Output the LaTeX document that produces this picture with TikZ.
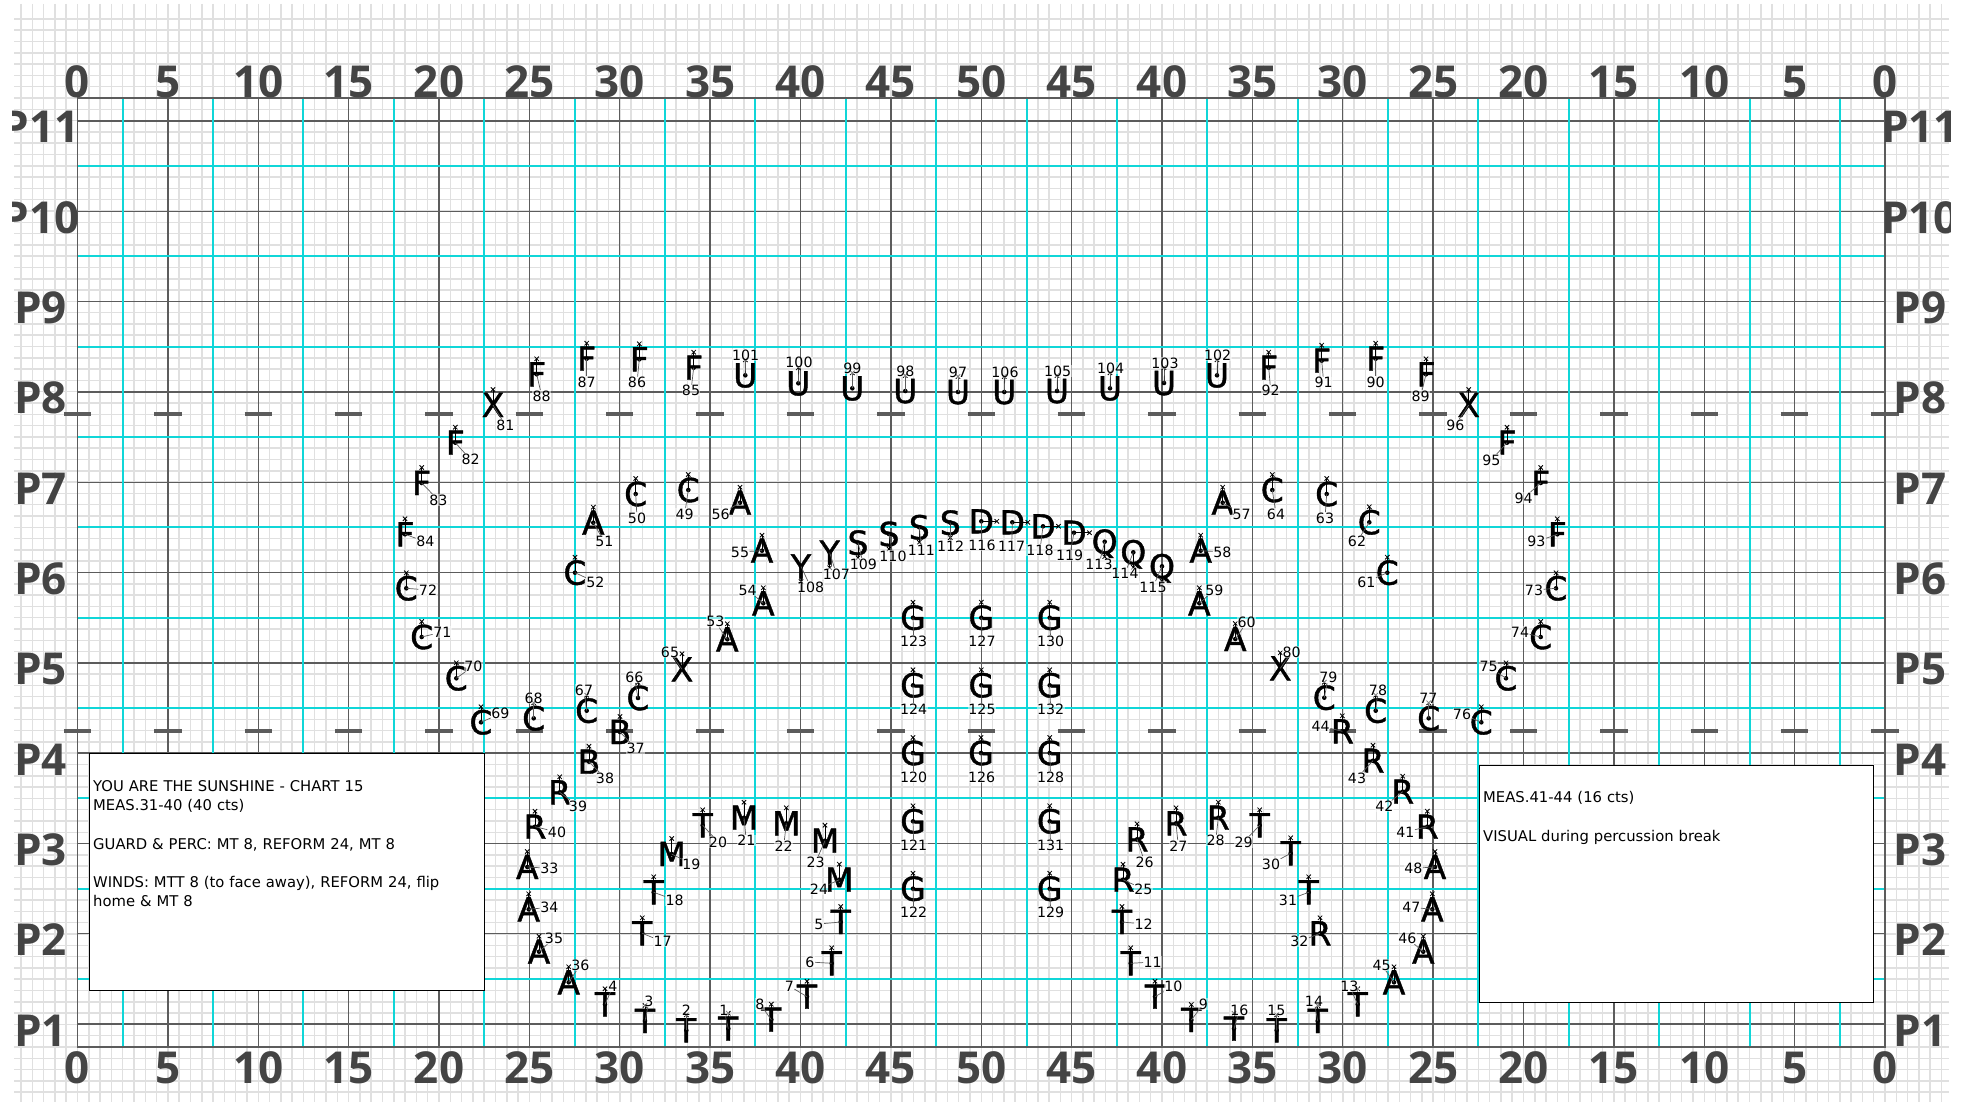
\documentclass[tikz,border=0pt]{standalone}
\usepackage{fontspec}
\setmainfont{DejaVu Sans}
\newfontfamily\headfont{Open Sans}[BoldFont={Open Sans Bold}]
\newfontfamily\letterfont{DejaVu Sans}[FakeBold=1.2]
\usetikzlibrary{shapes.misc,calc}
\definecolor{minorc}{HTML}{E0E0E0}
\definecolor{majorc}{HTML}{5C5C5C}
\definecolor{cyanc}{HTML}{10D6D8}
\definecolor{headc}{HTML}{444444}
\tikzset{
  x=1pt,y=-1pt,
  minorline/.style={draw=minorc,line width=1.5pt},
  majorline/.style={draw=majorc,line width=1.4pt},
  cyanline/.style={draw=cyanc,line width=2pt},
  hashline/.style={draw=majorc,line width=3.4pt},
  head/.style={font=\headfont\bfseries\fontsize{44}{44}\selectfont,text=headc,inner sep=0pt},
  letter/.style={font=\letterfont\fontsize{33}{33}\selectfont,text height=24pt,text depth=0pt,inner sep=0pt,anchor=center},
  dotnode/.style={circle,fill=black,inner sep=0pt,minimum size=4.6pt},
  markx/.style={cross out,draw=black,line width=.8pt,inner sep=0pt,minimum size=3.6pt},
  facing/.style={draw=black,line width=1pt},
  leader/.style={draw=majorc,line width=.7pt},
  num/.style={font=\fontsize{14.2}{14.2}\selectfont,inner sep=.4pt,fill=white,fill opacity=.5,text opacity=1},
  memo/.style={draw=black,line width=1.1pt,fill=white,inner sep=0pt,anchor=north west},
  memotext/.style={font=\fontsize{14.8}{19.3}\selectfont,inner sep=0pt,anchor=north west,align=left,text width=385pt},
}
% number, letter, x, y, label x, label y, mark dx, mark dy
\newcommand{\pf}[8]{%
  \node[letter] (l#1) at (#3,#4) {#2};
  \node[dotnode] (d#1) at (#3,#4) {};
  \node[markx] (m#1) at ($(#3,#4)+(#7,#8)$) {};
  \draw[facing] (d#1.center) -- (m#1.center);
  \node[num] (n#1) at (#5,#6) {#1};
  \draw[leader] (d#1.center) -- (n#1);
}
\newcommand{\pu}[6]{\pf{#1}{#2}{#3}{#4}{#5}{#6}{0}{-15.5}}
\newcommand{\pd}[6]{\pf{#1}{#2}{#3}{#4}{#5}{#6}{0}{15}}
\newcommand{\pr}[6]{\pf{#1}{#2}{#3}{#4}{#5}{#6}{15.5}{0}}
\begin{document}
\begin{tikzpicture}
\useasboundingbox (0,0) rectangle (1971,1102);
\fill[white] (0,0) rectangle (1971,1102);
% minor grid
\foreach \k in {-5,...,165}{\draw[minorline] ({77.5+\k*11.297},4) -- ({77.5+\k*11.297},1102);}
\foreach \k in {-7,...,88}{\draw[minorline] (14,{98+\k*11.297}) -- (1949,{98+\k*11.297});}
% field
\foreach \k in {0,...,20}{\draw[majorline] ({77.5+\k*90.375},98) -- ({77.5+\k*90.375},1047);}
\foreach \k in {1,...,11}{\draw[majorline] (77.5,{1024-(\k-1)*90.3}) -- (1885,{1024-(\k-1)*90.3});}
\foreach \k in {1,3,...,39}{\draw[cyanline] ({77.5+\k*45.19},98) -- ({77.5+\k*45.19},1047);}
\foreach \k in {1,...,10}{\draw[cyanline] (77.5,{1024-(\k-.5)*90.3}) -- (1885,{1024-(\k-.5)*90.3});}
\draw[majorline] (77.5,98) rectangle (1885,1047);
\foreach \k in {0,...,20}{
  \draw[hashline] ({63.8+\k*90.375},414) -- ({91.2+\k*90.375},414);
  \draw[hashline] ({63.8+\k*90.375},731) -- ({91.2+\k*90.375},731);
}
% yard numbers
\foreach \k/\t in {0/0,1/5,2/10,3/15,4/20,5/25,6/30,7/35,8/40,9/45,10/50,11/45,12/40,13/35,14/30,15/25,16/20,17/15,18/10,19/5,20/0}{
  \node[head,anchor=base] (ytop\k) at ({77.5+\k*90.375},97.5) {\t};
  \node[head,anchor=base] (ybot\k) at ({77.5+\k*90.375},1083) {\t};
}
% point labels, cut off at the edge of the sheet
\begin{scope}
\clip (12,0) rectangle (1950,1102);
\foreach \k in {1,...,11}{
  \node[head,anchor=base] (pl\k) at (40.5,{1046-(\k-1)*90.3}) {P\k};
  \node[head,anchor=base] (pr\k) at (1920,{1046-(\k-1)*90.3}) {P\k};
}
\end{scope}
% note boxes
\node[memo,minimum width=394.4pt,minimum height=237pt] (boxL) at (89.3,753.3) {};
\node[memotext] (txtL) at (93,780) {YOU ARE THE SUNSHINE - CHART 15\\MEAS.31-40 (40 cts)\\[19.3pt]GUARD \& PERC: MT 8, REFORM 24, MT 8\\[19.3pt]WINDS: MTT 8 (to face away), REFORM 24, flip\\home \& MT 8};
\node[memo,minimum width=394.6pt,minimum height=237.3pt] (boxR) at (1478.7,764.7) {};
\node[memotext] (txtR) at (1483,791.5) {MEAS.41-44 (16 cts)\\[19.3pt]VISUAL during percussion break};
% performers
\pu{88}{F}{536.7}{374.3}{541.7}{396}
\pu{87}{F}{586.7}{358.7}{586.7}{382}
\pu{86}{F}{639.3}{359.3}{637}{382.7}
\pu{85}{F}{693.7}{367.7}{691}{390.7}
\pu{101}{U}{745.3}{375.3}{745.7}{355}
\pu{100}{U}{798.3}{383.3}{799}{362.7}
\pu{99}{U}{852.3}{388.3}{852.3}{368}
\pu{81}{X}{493}{405}{505.3}{425}
\pu{82}{F}{455.3}{442.7}{470.7}{459.7}
\pu{83}{F}{421.7}{483}{438.3}{500}
\pu{84}{F}{405}{534.3}{425.3}{541.7}
\pu{72}{C}{406.3}{588.3}{428}{590}
\pu{71}{C}{421.7}{637}{442.3}{632}
\pu{50}{C}{635.7}{494}{637}{518}
\pu{49}{C}{688.3}{490}{684.7}{514}
\pu{56}{A}{740}{502.7}{720.7}{514}
\pu{51}{A}{593.3}{522.7}{604.3}{541.7}
\pu{52}{C}{575}{572.7}{595.3}{582}
\pu{55}{A}{762}{550.7}{740}{552}
\pu{54}{A}{763.3}{603.3}{747.7}{590}
\pd{108}{Y}{801}{566.5}{810.7}{587}
\pd{107}{Y}{829.7}{552.7}{836.3}{574}
\pd{109}{S}{858}{542.7}{863.3}{564}
\pu{53}{A}{727.3}{639.3}{715.3}{621.7}
\pu{98}{U}{905.3}{391}{905.3}{371}
\pu{97}{U}{958}{392}{958}{372}
\pu{106}{U}{1004.3}{392}{1005}{372}
\pu{105}{U}{1057}{391}{1057.7}{371}
\pu{104}{U}{1110}{388.3}{1110.7}{368}
\pu{103}{U}{1164}{383}{1165}{363}
\pu{102}{U}{1217}{375.3}{1217.7}{355}
\pu{92}{F}{1268.7}{367.7}{1270.7}{390.7}
\pd{110}{S}{889}{534}{893}{556}
\pd{111}{S}{919.3}{527.3}{921.3}{550}
\pd{112}{S}{950.3}{522.7}{950.7}{546}
\pr{116}{D}{981.3}{521.3}{982}{545}
\pr{117}{D}{1012.3}{522.3}{1011.7}{546}
\pr{118}{D}{1043}{526.3}{1040}{550}
\pr{119}{D}{1074}{532.7}{1069.7}{555.3}
\pd{113}{Q}{1104.7}{541.7}{1099}{564.3}
\pd{114}{Q}{1133.3}{552.3}{1125}{573.3}
\pd{115}{Q}{1162}{566.3}{1153}{587}
\pu{57}{A}{1222.7}{502.7}{1241.7}{514}
\pu{64}{C}{1272.3}{490}{1276}{514}
\pu{58}{A}{1200.7}{550.7}{1222.3}{552}
\pu{59}{A}{1199.3}{603.3}{1214.3}{590}
\pu{60}{A}{1235.3}{639}{1246.7}{622.3}
\pu{123}{G}{913}{617.7}{913.7}{641}
\pu{127}{G}{981.3}{617.7}{982}{641}
\pu{130}{G}{1049.7}{617.7}{1050.7}{641}
\pu{124}{G}{913}{685.3}{913.7}{709}
\pu{125}{G}{981.3}{685.3}{982}{709}
\pu{132}{G}{1049.7}{685.3}{1050.7}{709}
\pu{120}{G}{913}{753}{913.7}{777}
\pu{126}{G}{981}{753}{981.7}{777}
\pu{128}{G}{1049.7}{753}{1050.7}{777}
\pu{121}{G}{913}{821.3}{913.7}{845.3}
\pu{131}{G}{1049.7}{821.3}{1050.7}{845.3}
\pu{122}{G}{913}{888.7}{913.7}{912}
\pu{129}{G}{1049.7}{888.7}{1050.7}{912}
\pu{91}{F}{1321.7}{360.7}{1323.7}{382.7}
\pu{90}{F}{1375.7}{358.7}{1375.7}{382}
\pu{89}{F}{1426}{374.3}{1420.7}{396}
\pu{96}{X}{1468.7}{405}{1455.3}{425}
\pu{95}{F}{1507}{442.7}{1491.3}{460}
\pu{94}{F}{1540.7}{483}{1523.7}{498}
\pu{93}{F}{1557.3}{534.3}{1536.3}{541.7}
\pu{73}{C}{1556}{588.3}{1534}{590}
\pu{63}{C}{1326.7}{494}{1325}{518}
\pu{62}{C}{1369.3}{522.3}{1357}{541.7}
\pu{61}{C}{1387.3}{572.7}{1366.3}{582}
\pu{74}{C}{1540.7}{637}{1520}{632}
\pu{75}{C}{1506}{678.3}{1488.7}{666.7}
\pu{76}{C}{1481.3}{722.3}{1462}{714}
\pu{77}{C}{1428.7}{718.3}{1428.3}{698}
\pu{78}{C}{1375.7}{710.7}{1378}{690}
\pu{79}{C}{1324.3}{697.7}{1328.3}{677.3}
\pu{80}{X}{1280.3}{668.3}{1291.7}{652}
\pu{44}{R}{1342.3}{731.3}{1320.7}{726}
\pu{43}{R}{1373}{760.7}{1357}{778}
\pu{42}{R}{1402.7}{791.7}{1384.3}{806.3}
\pu{70}{C}{456.3}{678.3}{473.3}{666}
\pu{69}{C}{481}{722.3}{500.3}{713.7}
\pu{68}{C}{533.7}{718.3}{533.7}{698}
\pu{67}{C}{586.7}{710.7}{584}{690}
\pu{66}{C}{638}{698}{634.3}{677}
\pu{65}{X}{682}{669.3}{670}{652}
\pu{37}{B}{620}{732}{635.7}{748.3}
\pu{38}{B}{589}{761.7}{605}{778}
\pu{39}{R}{559.7}{792.3}{578}{806}
\pu{40}{R}{535}{826.7}{557}{832}
\pu{33}{A}{527.3}{867}{549.3}{868.3}
\pu{34}{A}{528.7}{909.3}{549.3}{907.3}
\pu{35}{A}{539}{951.7}{554}{938.3}
\pu{36}{A}{568.7}{982.3}{580.3}{965}
\pu{4}{T}{605}{1004.3}{613}{986.3}
\pu{3}{T}{645}{1021}{649}{1001}
\pu{2}{T}{686.3}{1030.3}{686.3}{1010}
\pu{1}{T}{728.3}{1028.7}{724}{1010}
\pu{8}{T}{771.3}{1019.7}{760}{1004}
\pu{7}{T}{807}{996.7}{789.3}{986}
\pu{6}{T}{831.7}{963.3}{810}{962}
\pu{5}{T}{840.7}{922}{819}{924}
\pu{24}{M}{839.3}{879.7}{819}{889}
\pu{23}{M}{825}{840.7}{815.7}{862}
\pu{22}{M}{786.3}{823.3}{783.7}{846}
\pu{21}{M}{744}{817.7}{746.3}{840.7}
\pu{20}{T}{702.7}{825.3}{718}{842}
\pu{19}{M}{671.7}{854}{691.3}{864}
\pu{18}{T}{653.7}{892.3}{674.7}{900}
\pu{17}{T}{642.3}{933.3}{662.7}{941.7}
\pu{26}{R}{1137}{839.3}{1144.7}{862}
\pu{27}{R}{1176}{823.3}{1178.3}{846}
\pu{28}{R}{1218.3}{817.7}{1215.7}{840.7}
\pu{29}{T}{1259.7}{825.3}{1243.7}{842}
\pu{30}{T}{1290.7}{853.3}{1271}{864}
\pu{31}{T}{1308.7}{892.3}{1288}{900}
\pu{32}{R}{1320}{933.3}{1299.3}{941.7}
\pu{25}{R}{1123}{879.7}{1143.3}{889}
\pu{12}{T}{1122}{922}{1143.7}{924}
\pu{11}{T}{1130.7}{963.3}{1152.7}{962}
\pu{10}{T}{1155}{996.7}{1173.3}{986}
\pu{9}{T}{1191.3}{1020}{1203.3}{1004}
\pu{16}{T}{1234}{1028.7}{1239.3}{1010}
\pu{15}{T}{1276.7}{1030.3}{1276.3}{1010}
\pu{14}{T}{1317.7}{1021}{1314}{1001}
\pu{13}{T}{1357.7}{1004.3}{1349.3}{986}
\pu{45}{A}{1394}{982.3}{1381.7}{965}
\pu{46}{A}{1423.3}{951.7}{1407.3}{938.3}
\pu{47}{A}{1432.3}{909.3}{1411.3}{907.3}
\pu{48}{A}{1435}{867}{1413.3}{868.3}
\pu{41}{R}{1427.3}{826.7}{1405.3}{832}
\end{tikzpicture}
\end{document}
